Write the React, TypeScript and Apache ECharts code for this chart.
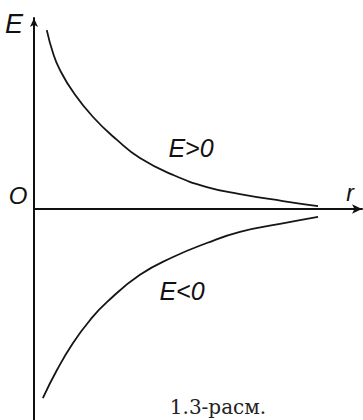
import React, { useEffect, useRef } from "react";
import * as echarts from "echarts";

// Upper branch (E > 0): r, E
const upperR = [0.39, 0.58, 0.79, 1.19, 1.8, 2.53, 3.23, 4.24, 5.27, 6.28, 7.59, 8.66];
const upperE = [5.62, 4.9, 4.37, 3.68, 2.89, 2.17, 1.6, 1.07, 0.69, 0.47, 0.25, 0.09];
// Lower branch (E < 0): r, E
const lowerR = [0.27, 0.7, 1.19, 1.71, 2.23, 3.23, 4.24, 5.27, 6.28, 7.5, 8.66];
const lowerE = [-5.94, -5.06, -4.21, -3.49, -2.92, -2.07, -1.51, -1.07, -0.72, -0.47, -0.25];

const axisLabels = { e: "E", r: "r", o: "O" };
const branchLabels = ["E>0", "E<0"];
const caption = "1.3-расм.";

export default function App() {
  const ref = useRef<HTMLDivElement>(null);
  useEffect(() => {
    if (!ref.current) return;
    const chart = echarts.init(ref.current, undefined, { renderer: "svg" });
    const hand = {
      fontFamily: "Liberation Sans",
      fontStyle: "italic",
      fill: "#111",
    };
    const curve = {
      type: "line",
      smooth: 0.5,
      symbol: "none",
      lineStyle: { color: "#151515", width: 1.8 },
    };
    chart.setOption({
      animation: false,
      backgroundColor: "#ffffff",
      grid: { left: 34, right: 1, top: 18, bottom: 0 },
      xAxis: {
        type: "value",
        min: 0,
        max: 10,
        axisLine: {
          onZero: true,
          lineStyle: { color: "#111", width: 2 },
          symbol: ["none", "arrow"],
          symbolSize: [7, 10],
        },
        axisTick: { show: false },
        axisLabel: { show: false },
        splitLine: { show: false },
      },
      yAxis: {
        type: "value",
        min: -6.63,
        max: 6,
        axisLine: {
          onZero: false,
          lineStyle: { color: "#111", width: 2 },
          symbol: ["none", "arrow"],
          symbolSize: [6, 9],
        },
        axisTick: { show: false },
        axisLabel: { show: false },
        splitLine: { show: false },
      },
      series: [
        { ...curve, data: upperR.map((r, i) => [r, upperE[i]]) },
        { ...curve, data: lowerR.map((r, i) => [r, lowerE[i]]) },
      ],
      graphic: [
        {
          type: "text",
          x: 14,
          y: 24,
          style: { ...hand, text: axisLabels.e, fontSize: 27, align: "center", verticalAlign: "middle" },
        },
        {
          type: "text",
          x: 18,
          y: 195,
          style: { ...hand, text: axisLabels.o, fontSize: 24, align: "center", verticalAlign: "middle" },
        },
        {
          type: "text",
          x: 350,
          y: 193,
          style: { ...hand, text: axisLabels.r, fontSize: 23, align: "center", verticalAlign: "middle" },
        },
        {
          type: "text",
          x: 191,
          y: 148,
          style: { ...hand, text: branchLabels[0], fontSize: 25, align: "center", verticalAlign: "middle" },
        },
        {
          type: "text",
          x: 182,
          y: 291,
          style: { ...hand, text: branchLabels[1], fontSize: 25, align: "center", verticalAlign: "middle" },
        },
        {
          type: "text",
          x: 218,
          y: 407,
          style: {
            text: caption,
            fontFamily: "DejaVu Serif",
            fontSize: 20,
            fill: "#222",
            align: "center",
            verticalAlign: "middle",
          },
        },
      ],
    });
    return () => chart.dispose();
  }, []);
  return (
    <div
      ref={ref}
      style={{ position: "fixed", left: 0, top: 0, width: 363, height: 420, background: "#fff" }}
    />
  );
}
